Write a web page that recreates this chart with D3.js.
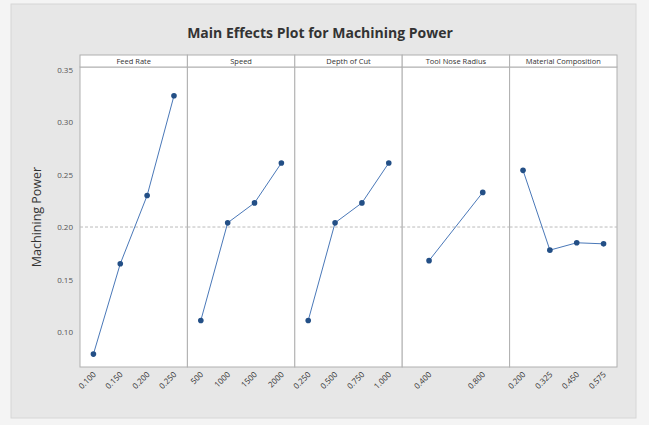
<!DOCTYPE html>
<html>
<head>
<meta charset="utf-8">
<script src="https://cdn.jsdelivr.net/npm/d3@7"></script>
<style>
  body { margin: 0; background: #f4f4f4; }
  text { font-family: "Open Sans", "Noto Sans", sans-serif; }
</style>
</head>
<body>
<div id="chart"></div>
<script>
// main effects data
var factors = ["Feed Rate", "Speed", "Depth of Cut", "Tool Nose Radius", "Material Composition"];
var levels = [
    ["0.100", "0.150", "0.200", "0.250"],
    ["500", "1000", "1500", "2000"],
    ["0.250", "0.500", "0.750", "1.000"],
    ["0.400", "0.800"],
    ["0.200", "0.325", "0.450", "0.575"]
];
var means = [
    [0.079, 0.165, 0.230, 0.325],
    [0.111, 0.204, 0.223, 0.261],
    [0.111, 0.204, 0.223, 0.261],
    [0.168, 0.233],
    [0.254, 0.178, 0.185, 0.184]
];
var yTicks = [0.10, 0.15, 0.20, 0.25, 0.30, 0.35];
var grandMean = 0.20;

var W = 649, H = 425;
var plotL = 80, plotR = 617, plotT = 67, plotB = 367, stripH = 12;

var svg = d3.select("#chart").append("svg").attr("width", W).attr("height", H);

svg.append("rect").attr("x", 11).attr("y", 4).attr("width", 625).attr("height", 414)
    .attr("fill", "#e7e7e7").attr("stroke", "#d6d6d6");

svg.append("text")
    .attr("x", 320).attr("y", 38)
    .attr("text-anchor", "middle")
    .attr("font-size", 14).attr("font-weight", "bold")
    .attr("fill", "#333")
    .text("Main Effects Plot for Machining Power");

var y = d3.scaleLinear().domain([0.0667, 0.3524]).range([plotB, plotT]);
var panels = d3.scaleBand().domain(factors).range([plotL, plotR]);

// y axis labels
svg.selectAll(".ytick").data(yTicks).enter().append("text")
    .attr("x", plotL - 7).attr("y", function(d){ return y(d) + 3; })
    .attr("text-anchor", "end")
    .attr("font-size", 8).attr("fill", "#555")
    .text(function(d){ return d.toFixed(2); });

svg.append("text")
    .attr("transform", "translate(41," + ((plotT + plotB) / 2) + ") rotate(-90)")
    .attr("text-anchor", "middle")
    .attr("font-size", 12.5).attr("fill", "#333")
    .text("Machining Power");

factors.forEach(function(f, i){
    var x0 = panels(f), bw = panels.bandwidth();
    var g = svg.append("g");

    g.append("rect").attr("x", x0).attr("y", plotT).attr("width", bw).attr("height", plotB - plotT)
        .attr("fill", "#fff").attr("stroke", "#b0b0b0").attr("stroke-width", 1);

    // strip
    g.append("rect").attr("x", x0).attr("y", plotT - stripH).attr("width", bw).attr("height", stripH)
        .attr("fill", "#fff").attr("stroke", "#b0b0b0");
    g.append("text").attr("x", x0 + bw / 2).attr("y", plotT - 3)
        .attr("text-anchor", "middle").attr("font-size", 7.5).attr("fill", "#333")
        .text(f);

    // reference line at the mean
    g.append("line").attr("x1", x0).attr("x2", x0 + bw)
        .attr("y1", y(grandMean)).attr("y2", y(grandMean))
        .attr("stroke", "#bbb").attr("stroke-dasharray", "3,2");

    var x = d3.scalePoint().domain(levels[i]).range([x0, x0 + bw]).padding(0.5);
    var pts = levels[i].map(function(l, k){ return [l, means[i][k]]; });

    g.append("path").datum(pts)
        .attr("d", d3.line().x(function(d){ return x(d[0]); }).y(function(d){ return y(d[1]); }))
        .attr("fill", "none").attr("stroke", "#4a78b8").attr("stroke-width", 1);

    g.selectAll("circle").data(pts).enter().append("circle")
        .attr("cx", function(d){ return x(d[0]); })
        .attr("cy", function(d){ return y(d[1]); })
        .attr("r", 2.8).attr("fill", "#234f86");

    g.selectAll(".xl").data(levels[i]).enter().append("text")
        .attr("transform", function(d){ return "translate(" + (x(d) + 3) + "," + (plotB + 8) + ") rotate(-45)"; })
        .attr("text-anchor", "end")
        .attr("font-size", 8).attr("fill", "#333")
        .text(function(d){ return d; });
});
</script>
</body>
</html>
